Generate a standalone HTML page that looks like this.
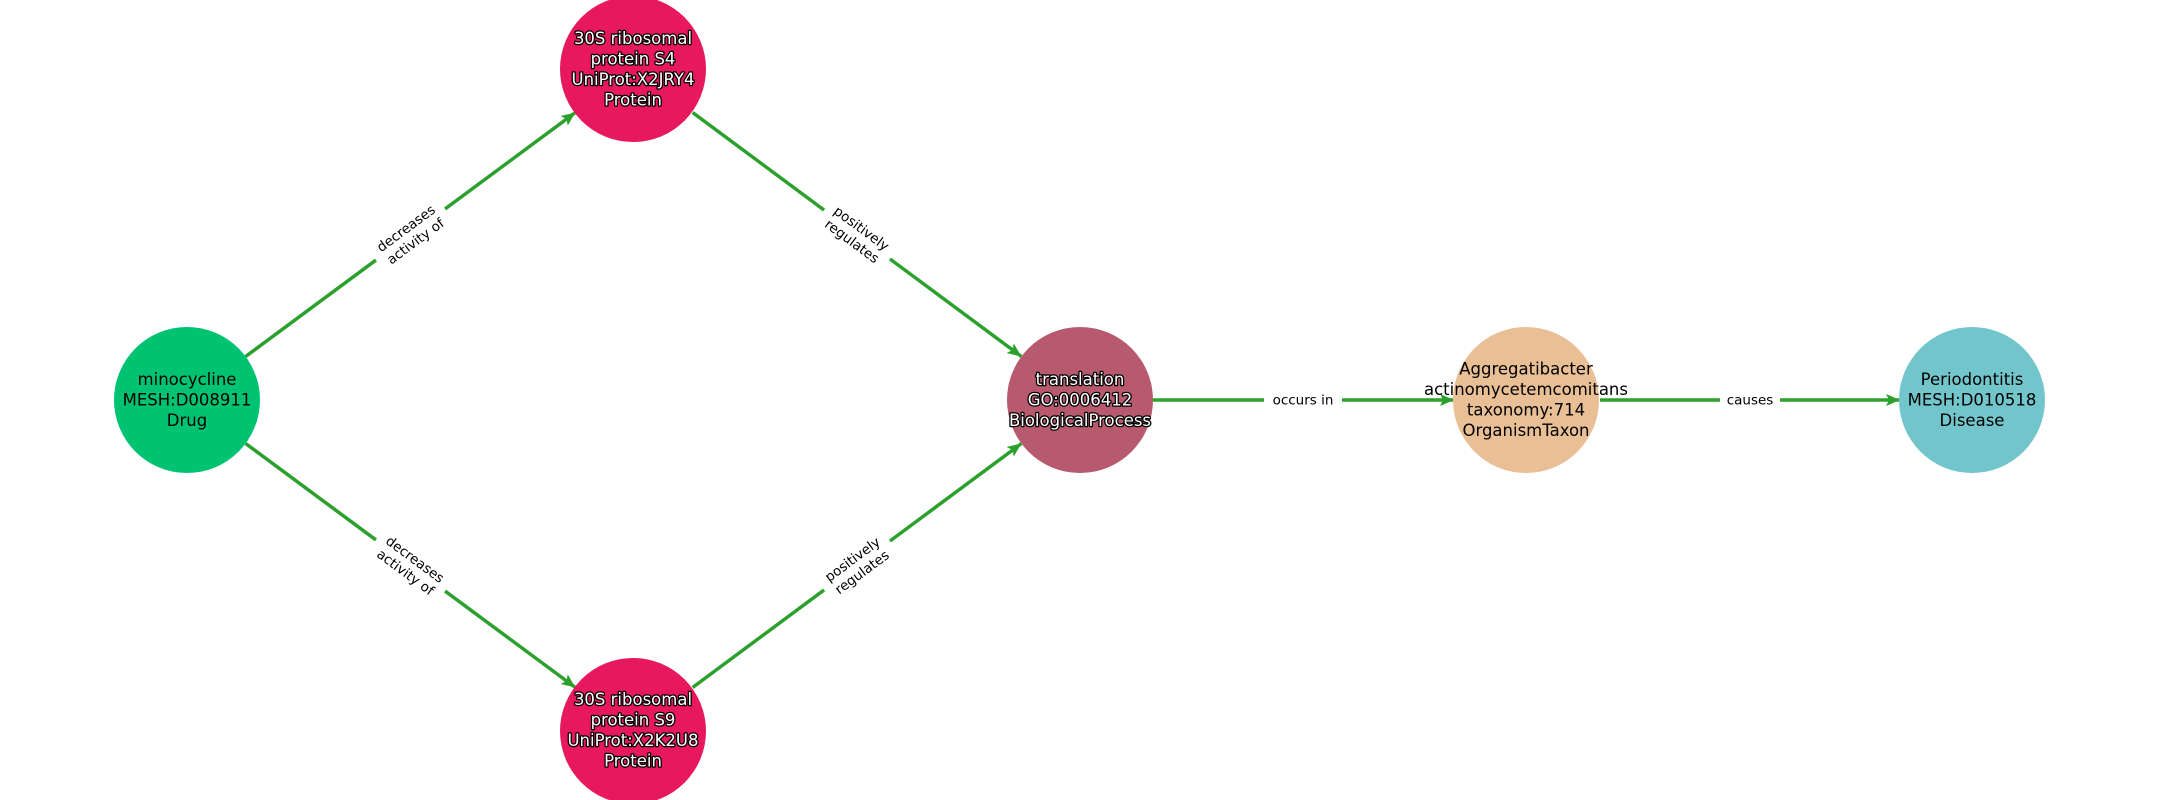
<!DOCTYPE html>
<html><head><meta charset="utf-8"><style>
html,body{margin:0;padding:0;background:#fff;}
svg{display:block;}
.n{font-family:"DejaVu Sans","Liberation Sans",sans-serif;font-size:16.5px;text-anchor:middle;}
.w{fill:#fff;stroke:#000;stroke-width:2.6px;paint-order:stroke;stroke-linejoin:round;}
.e{font-family:"DejaVu Sans","Liberation Sans",sans-serif;font-size:13.5px;text-anchor:middle;fill:#000;}
.l{stroke:#2ca02c;stroke-width:3.5;fill:none;}
</style></head><body>
<svg width="2160" height="800" viewBox="0 0 2160 800" xmlns="http://www.w3.org/2000/svg">
<defs>
<marker id="a" markerUnits="userSpaceOnUse" markerWidth="16" markerHeight="12" refX="14" refY="6" orient="auto">
<path d="M0,0 L14,6 L0,12 L3,6 Z" fill="#2ca02c"/>
</marker>
</defs>
<line class="l" x1="245.6" y1="356.5" x2="575.4" y2="112.5" marker-end="url(#a)"/>
<line class="l" x1="245.6" y1="443.5" x2="575.4" y2="687.5" marker-end="url(#a)"/>
<line class="l" x1="692.6" y1="112.5" x2="1021.4" y2="356.5" marker-end="url(#a)"/>
<line class="l" x1="692.6" y1="687.5" x2="1021.4" y2="443.5" marker-end="url(#a)"/>
<line class="l" x1="1153" y1="400" x2="1454" y2="400" marker-end="url(#a)"/>
<line class="l" x1="1600" y1="400" x2="1900" y2="400" marker-end="url(#a)"/>
<g transform="translate(410.5,234.5) rotate(-36.5)"><rect x="-43" y="-18" width="86" height="36" fill="#fff"/><text class="e" y="-3">decreases</text><text class="e" y="13">activity of</text></g>
<g transform="translate(410.5,565.5) rotate(36.5)"><rect x="-43" y="-18" width="86" height="36" fill="#fff"/><text class="e" y="-3">decreases</text><text class="e" y="13">activity of</text></g>
<g transform="translate(857,234.5) rotate(36.5)"><rect x="-41" y="-18" width="82" height="36" fill="#fff"/><text class="e" y="-3">positively</text><text class="e" y="13">regulates</text></g>
<g transform="translate(857,565.5) rotate(-36.5)"><rect x="-41" y="-18" width="82" height="36" fill="#fff"/><text class="e" y="-3">positively</text><text class="e" y="13">regulates</text></g>
<rect x="1264" y="390" width="78" height="20" fill="#fff"/><text class="e" x="1303" y="404.5">occurs in</text>
<rect x="1720" y="390" width="60" height="20" fill="#fff"/><text class="e" x="1750" y="404.5">causes</text>
<circle cx="187" cy="400" r="73" fill="#00c372"/>
<circle cx="633" cy="69" r="73" fill="#e8185f"/>
<circle cx="633" cy="731" r="73" fill="#e8185f"/>
<circle cx="1080" cy="400" r="73" fill="#b75a6e"/>
<circle cx="1526" cy="400" r="73" fill="#e9bf96"/>
<circle cx="1972" cy="400" r="73" fill="#72c6cb"/>
<text class="n" x="187" y="385">minocycline</text>
<text class="n" x="187" y="405.5">MESH:D008911</text>
<text class="n" x="187" y="426">Drug</text>

<text class="n w" x="633" y="44">30S ribosomal</text>
<text class="n w" x="633" y="64.5">protein S4</text>
<text class="n w" x="633" y="85">UniProt:X2JRY4</text>
<text class="n w" x="633" y="105.5">Protein</text>

<text class="n w" x="633" y="705">30S ribosomal</text>
<text class="n w" x="633" y="725.5">protein S9</text>
<text class="n w" x="633" y="746">UniProt:X2K2U8</text>
<text class="n w" x="633" y="766.5">Protein</text>

<text class="n w" x="1080" y="385">translation</text>
<text class="n w" x="1080" y="405.5">GO:0006412</text>
<text class="n w" x="1080" y="426">BiologicalProcess</text>

<text class="n" x="1526" y="374.5">Aggregatibacter</text>
<text class="n" x="1526" y="395">actinomycetemcomitans</text>
<text class="n" x="1526" y="415.5">taxonomy:714</text>
<text class="n" x="1526" y="436">OrganismTaxon</text>

<text class="n" x="1972" y="385">Periodontitis</text>
<text class="n" x="1972" y="405.5">MESH:D010518</text>
<text class="n" x="1972" y="426">Disease</text>
</svg>
</body></html>
